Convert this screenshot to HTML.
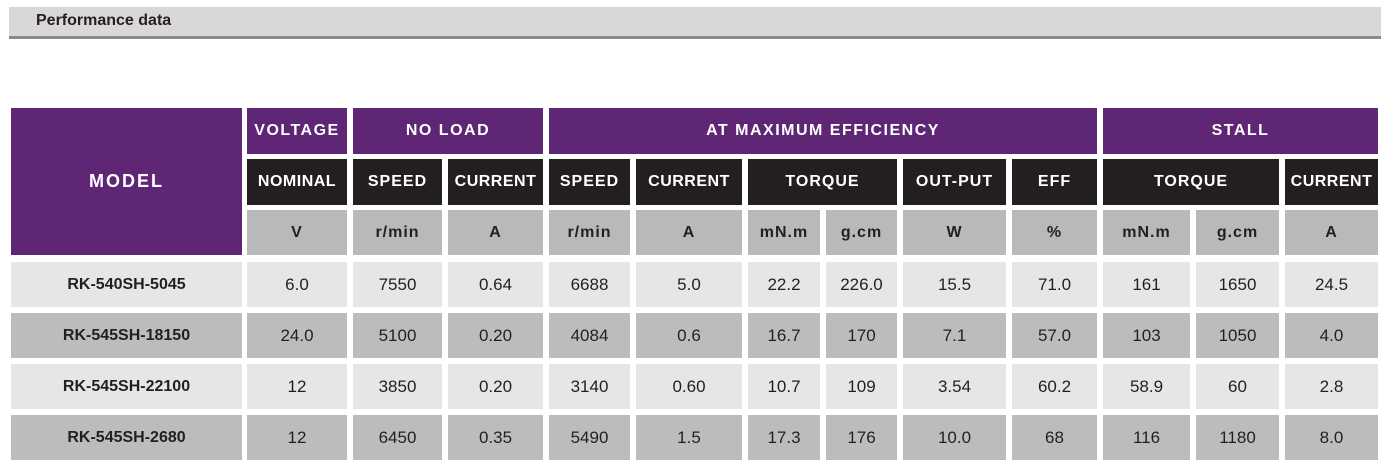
<!DOCTYPE html>
<html><head><meta charset="utf-8"><style>
body{margin:0;width:1392px;height:470px;background:#fff;position:relative;overflow:hidden;font-family:"Liberation Sans",sans-serif}
.c{position:absolute;display:flex;align-items:center;justify-content:center;box-sizing:border-box;white-space:nowrap}
.p{background:#5e2675;color:#fff;font-weight:bold;letter-spacing:1.5px;font-size:16px}
.k{background:#231f20;color:#fff;font-weight:bold;letter-spacing:1px;font-size:16px}
.u{background:#bab9b9;color:#231f20;font-weight:bold;letter-spacing:1px;font-size:16px}
.l{background:#e6e6e6;color:#231f20;font-size:17px}
.d{background:#bdbcbc;color:#231f20;font-size:17px}
</style></head><body>
<div style="position:absolute;left:9px;top:7px;width:1372px;height:29px;background:#d9d8d6"></div>
<div style="position:absolute;left:9px;top:36px;width:1372px;height:3px;background:#8a8a8a"></div>
<div style="position:absolute;left:36px;top:12px;font-size:16px;font-weight:bold;color:#231f20">Performance data</div>
<div id="t"></div>
<script>
var X=[[11,242],[247,347],[353,442],[448,543],[549,630],[636,742],[748,820],[826,897],[903,1006],[1012,1097],[1103,1190],[1196,1279],[1285,1378]];
var h='';
function cell(x0,x1,y0,y1,cls,txt,ex){h+='<div class="c '+cls+'" style="left:'+x0+'px;top:'+y0+'px;width:'+(x1-x0)+'px;height:'+(y1-y0)+'px;'+(ex||'')+'">'+txt+'</div>';}
cell(11,242,108,255,'p','MODEL','font-size:18px;letter-spacing:2px');
cell(247,347,108,154,'p','VOLTAGE');
cell(353,543,108,154,'p','NO LOAD');
cell(549,1097,108,154,'p','AT MAXIMUM EFFICIENCY');
cell(1103,1378,108,154,'p','STALL');
var r2=[[1,1,'NOMINAL'],[2,2,'SPEED'],[3,3,'CURRENT'],[4,4,'SPEED'],[5,5,'CURRENT'],[6,7,'TORQUE'],[8,8,'OUT-PUT'],[9,9,'EFF'],[10,11,'TORQUE'],[12,12,'CURRENT']];
r2.forEach(function(a){cell(X[a[0]][0],X[a[1]][1],159,205,'k',a[2],(a[2]=='NOMINAL'||a[2]=='CURRENT')?'letter-spacing:0.5px':'');});
var u=['V','r/min','A','r/min','A','mN.m','g.cm','W','%','mN.m','g.cm','A'];
u.forEach(function(t,i){cell(X[i+1][0],X[i+1][1],210,255,'u',t);});
var D=[['RK-540SH-5045','6.0','7550','0.64','6688','5.0','22.2','226.0','15.5','71.0','161','1650','24.5'],
['RK-545SH-18150','24.0','5100','0.20','4084','0.6','16.7','170','7.1','57.0','103','1050','4.0'],
['RK-545SH-22100','12','3850','0.20','3140','0.60','10.7','109','3.54','60.2','58.9','60','2.8'],
['RK-545SH-2680','12','6450','0.35','5490','1.5','17.3','176','10.0','68','116','1180','8.0']];
var Y=[[262,307],[313,358],[364,409],[415,460]];
D.forEach(function(r,j){r.forEach(function(t,i){cell(X[i][0],X[i][1],Y[j][0],Y[j][1],j%2?'d':'l',t,i==0?'font-weight:bold;font-size:16px':'');});});
document.getElementById('t').innerHTML=h;
</script>
</body></html>
